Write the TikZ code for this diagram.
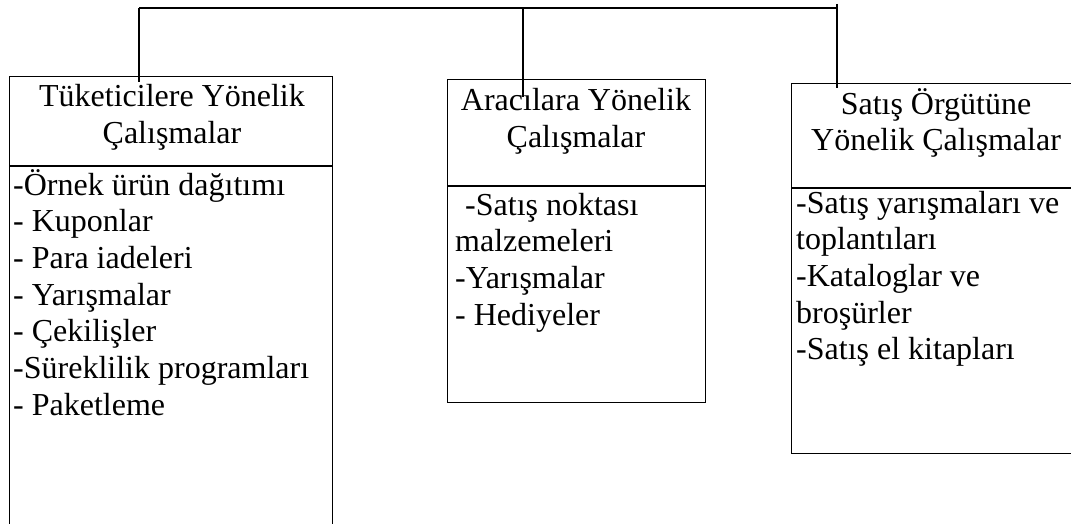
\documentclass[tikz,border=0pt]{standalone}
\usepackage{fontspec}
\setmainfont{Liberation Serif}
\usetikzlibrary{positioning}
\tikzset{
  colbox/.style={draw=black, line width=1.3pt, anchor=north west, inner sep=0pt},
  divline/.style={draw=black, line width=1.3pt},
  coltitle/.style={font=\fontsize{32}{36.7}\selectfont, align=center, anchor=base, inner sep=0pt},
  colitem/.style={font=\fontsize{32}{36.7}\selectfont, anchor=base west, inner sep=0pt},
  link/.style={line width=2pt, color=black}
}

\begin{document}
\begin{tikzpicture}[x=1pt, y=-1pt]
  \useasboundingbox (0,0) rectangle (1071,524);
  \clip (0,0) rectangle (1071,524);

  % Columns
  \node[colbox, minimum width=323pt, minimum height=470pt] (tuk) at (9,76) {};
  \node[colbox, minimum width=258pt, minimum height=323pt] (ara) at (447,79) {};
  \node[colbox, minimum width=290pt, minimum height=370pt] (sat) at (791,83) {};
  \draw[divline] ([yshift=-90pt]tuk.north west) -- ([yshift=-90pt]tuk.north east);
  \draw[divline] ([yshift=-107pt]ara.north west) -- ([yshift=-107pt]ara.north east);
  \draw[divline] ([yshift=-105pt]sat.north west) -- ([yshift=-105pt]sat.north east);

  % Titles (base = last line)
  \node[coltitle] (tuktitle) at (172,143) {Tüketicilere Yönelik\\Çalışmalar};
  \node[coltitle] (aratitle) at (576,147) {Aracılara Yönelik\\Çalışmalar};
  \node[coltitle] (sattitle) at (936,151) {Satış Örgütüne\\Yönelik Çalışmalar};

  % Items
  \foreach \txt [count=\i from 0] in {-Örnek ürün dağıtımı, - Kuponlar, - Para iadeleri,
      - Yarışmalar, - Çekilişler, -Süreklilik programları, - Paketleme}
    \node[colitem] (tukitem\i) at (13,195+36.7*\i) {\txt};
  \node[colitem] (araitem0) at (465,215) {-Satış noktası};
  \foreach \txt [count=\i from 1] in {malzemeleri, -Yarışmalar, - Hediyeler}
    \node[colitem] (araitem\i) at (455,215+36.7*\i) {\txt};
  \foreach \txt [count=\i from 0] in {-Satış yarışmaları ve, toplantıları, -Kataloglar ve,
      broşürler, -Satış el kitapları}
    \node[colitem] (satitem\i) at (796,213+36.7*\i) {\txt};

  % Connectors
  \coordinate (busL) at (139,8);
  \coordinate (busM) at (523,8);
  \coordinate (busR) at (838,8);
  \coordinate (busT) at (837,4);
  \draw[link] (busL) -- (busR);
  \draw[link] (busL) -- ([yshift=-6pt]tuk.north -| busL);
  \draw[link] (busM) -- ([yshift=-18pt]ara.north -| busM);
  \draw[link] (busT) -- ([yshift=-5pt]sat.north -| busT);
\end{tikzpicture}
\end{document}
